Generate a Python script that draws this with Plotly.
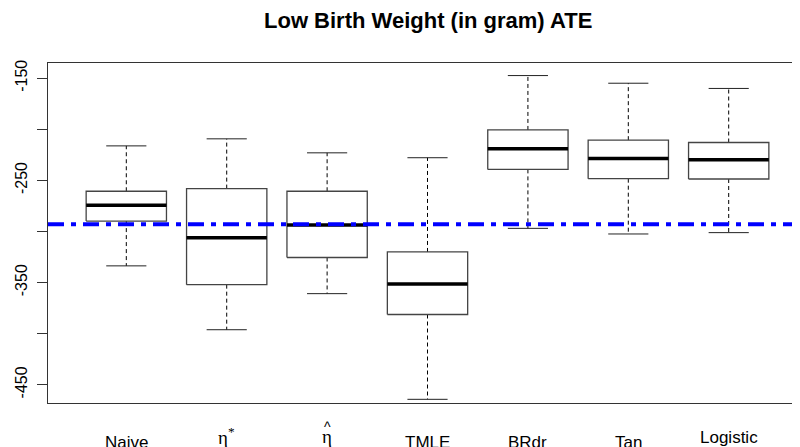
import plotly.graph_objects as go

labels = ["Naive", "η<sup>*</sup>", "η", "TMLE", "BRdr", "Tan", "Logistic"]
lower = [-333.6, -396.1, -360.8, -464.2, -296.9, -302.4, -301.1]
q1 = [-289.8, -352.0, -325.4, -381.2, -239.2, -248.3, -248.6]
median = [-274.2, -306.0, -293.7, -351.4, -219.1, -228.5, -229.8]
q3 = [-260.6, -258.0, -260.6, -320.0, -200.6, -210.6, -212.9]
upper = [-216.2, -209.3, -223.0, -227.8, -147.4, -154.9, -160.0]
true_ate = -293.0

y_ticks = [-450, -400, -350, -300, -250, -200, -150]
y_ticktext = ["-450", "", "-350", "", "-250", "", "-150"]

FONT = "Arial, Liberation Sans, sans-serif"
SERIF = "Liberation Serif, Times New Roman, serif"
half = 0.4
cap = 0.2

fig = go.Figure()
for i in range(len(labels)):
    x = i + 1
    # dashed whiskers
    fig.add_trace(go.Scatter(
        x=[x, x, None, x, x], y=[q3[i], upper[i], None, q1[i], lower[i]],
        mode="lines", line=dict(color="black", width=1, dash="4px,3px"),
        hoverinfo="skip", showlegend=False))
    # caps
    fig.add_trace(go.Scatter(
        x=[x - cap, x + cap, None, x - cap, x + cap],
        y=[upper[i], upper[i], None, lower[i], lower[i]],
        mode="lines", line=dict(color="#222", width=1),
        hoverinfo="skip", showlegend=False))
    # box
    fig.add_trace(go.Scatter(
        x=[x - half, x + half, x + half, x - half, x - half],
        y=[q1[i], q1[i], q3[i], q3[i], q1[i]],
        mode="lines", fill="toself", fillcolor="white",
        line=dict(color="#444", width=1.3),
        hoverinfo="skip", showlegend=False))
    # median
    fig.add_trace(go.Scatter(
        x=[x - half, x + half], y=[median[i], median[i]],
        mode="lines", line=dict(color="black", width=3.5),
        hoverinfo="skip", showlegend=False))

fig.add_shape(type="line", xref="paper", x0=0, x1=1, y0=true_ate, y1=true_ate,
              line=dict(color="#0000ff", width=4, dash="16px,7px,5px,7px"),
              layer="above")

# category labels under the plot (greek ones in a serif face, like R plotmath)
for i, lab in enumerate(labels):
    greek = lab.startswith("η")
    if greek:
        shift, fam, size = -33, SERIF, 19
    elif lab == "Logistic":
        shift, fam, size = -34, FONT, 17
    else:
        shift, fam, size = -39, FONT, 17
    fig.add_annotation(x=i + 1, y=0, xref="x", yref="paper", text=lab,
                       showarrow=False, yanchor="middle", yshift=shift,
                       font=dict(family=fam, size=size, color="black"))
fig.add_annotation(x=3, y=0, xref="x", yref="paper", text="^",
                   showarrow=False, yanchor="middle", yshift=-24,
                   font=dict(family=FONT, size=14, color="black"))

# title
fig.add_annotation(x=0.503, y=1, xref="paper", yref="paper",
                   text="<b>Low Birth Weight (in gram) ATE</b>",
                   showarrow=False, xanchor="center", yanchor="middle", yshift=43,
                   font=dict(family=FONT, size=22, color="black"))

fig.update_layout(
    width=800, height=447,
    margin=dict(l=40, r=5, t=55, b=52),
    paper_bgcolor="white", plot_bgcolor="white",
    xaxis=dict(range=[0.22, 7.74], showgrid=False, zeroline=False, showticklabels=False,
               showline=True, mirror=True, linecolor="#333", linewidth=1),
    yaxis=dict(range=[-467.8, -135.1], tickvals=y_ticks, ticktext=y_ticktext,
               tickangle=-90, ticks="outside", ticklen=10, tickcolor="#333",
               ticklabelstandoff=4,
               showgrid=False, zeroline=False, showline=True, mirror=True,
               linecolor="#333", linewidth=1,
               tickfont=dict(family=FONT, size=16, color="black")),
)

fig.write_html("out.html")
